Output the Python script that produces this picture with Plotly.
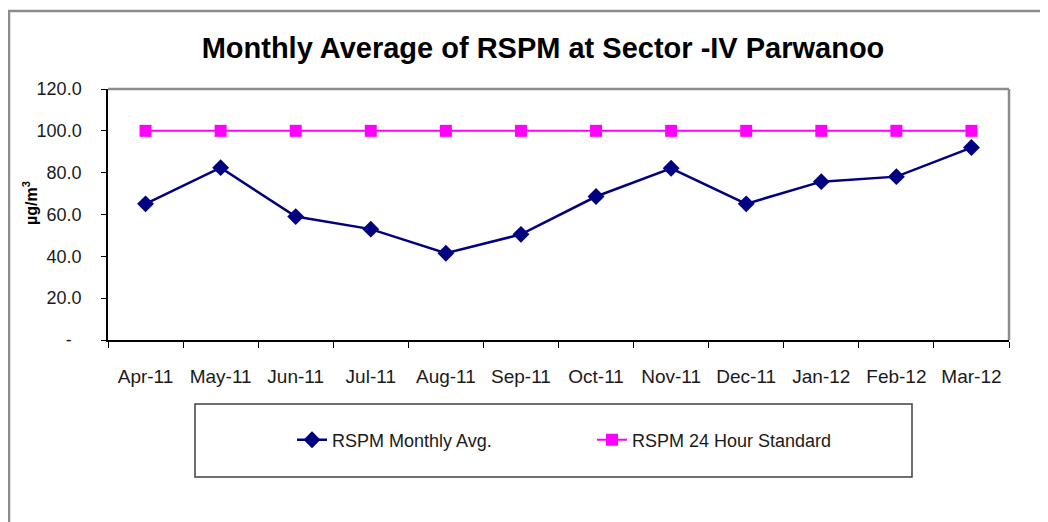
import plotly.graph_objects as go

months = ["Apr-11", "May-11", "Jun-11", "Jul-11", "Aug-11", "Sep-11",
          "Oct-11", "Nov-11", "Dec-11", "Jan-12", "Feb-12", "Mar-12"]
rspm_avg = [65.1, 82.4, 59.0, 53.0, 41.5, 50.5, 68.6, 82.1, 65.1, 75.7, 78.1, 92.0]
rspm_std = [100, 100, 100, 100, 100, 100, 100, 100, 100, 100, 100, 100]

y_tickvals = [0, 20, 40, 60, 80, 100, 120]
y_ticktext = ["-\u00a0\u00a0", "20.0", "40.0", "60.0", "80.0", "100.0", "120.0"]

FONT = "Liberation Sans, Arial, sans-serif"
OFF = 8  # page body margin
W, H = 1048 - OFF, 522 - OFF
# plot area in page pixels
PL, PR, PT, PB = 108, 1009, 89, 340
L, R, T, B = PL - OFF, PR - OFF, PT - OFF, PB - OFF


def px(x):  # page pixel -> paper x
    return (x - OFF - L) / (R - L)


def py(y):  # page pixel -> paper y
    return (B - (y - OFF)) / (B - T)


fig = go.Figure()
fig.add_trace(go.Scatter(
    x=months, y=rspm_avg, name="RSPM Monthly Avg.", mode="lines+markers",
    line=dict(color="#000080", width=2.5),
    marker=dict(symbol="diamond", size=13, color="#000080"),
    legend="legend",
))
fig.add_trace(go.Scatter(
    x=months, y=rspm_std, name="RSPM 24 Hour Standard", mode="lines+markers",
    line=dict(color="#FF00FF", width=2),
    marker=dict(symbol="square", size=12, color="#FF00FF"),
    legend="legend2",
))

shapes = [
    # outer chart frame
    dict(type="rect", xref="paper", yref="paper", x0=px(9), x1=px(1070),
         y0=py(560), y1=py(11), line=dict(color="#8c8c8c", width=2.5),
         layer="below"),
    # plot area top and right border
    dict(type="line", xref="paper", yref="paper", x0=0, x1=1, y0=1, y1=1,
         line=dict(color="#8c8c8c", width=2.5)),
    dict(type="line", xref="paper", yref="paper", x0=1, x1=1, y0=0, y1=1,
         line=dict(color="#8c8c8c", width=2.5)),
    # legend box
    dict(type="rect", xref="paper", yref="paper", x0=px(195), x1=px(912),
         y0=py(477), y1=py(404), line=dict(color="#404040", width=1.5)),
]

fig.update_layout(
    width=W, height=H,
    margin=dict(l=L, r=W - R, t=T, b=H - B),
    paper_bgcolor="white", plot_bgcolor="white",
    font=dict(family=FONT, color="#1a1a1a", size=18),
    title=dict(text="<b>Monthly Average of RSPM at Sector -IV Parwanoo</b>",
               x=px(543), xref="paper", xanchor="center",
               y=1 - (48 - OFF) / H, yanchor="middle",
               font=dict(size=29, color="#000000", family=FONT)),
    xaxis=dict(
        type="category", range=[-0.5, 11.5], tickson="boundaries",
        ticks="outside", ticklen=6, tickcolor="#000", tickwidth=1,
        showline=True, linecolor="#000", linewidth=1.5, showgrid=False,
        tickfont=dict(size=19, color="#1a1a1a"), ticklabelstandoff=18,
        zeroline=False,
    ),
    yaxis=dict(
        range=[0, 120], tickvals=y_tickvals, ticktext=y_ticktext,
        ticks="outside", ticklen=5, tickcolor="#000", tickwidth=1,
        showline=True, linecolor="#000", linewidth=1.5, showgrid=False,
        tickfont=dict(size=18, color="#1a1a1a"), ticklabelstandoff=16,
        zeroline=False,
    ),
    showlegend=True,
    legend=dict(orientation="h", x=px(292), y=py(440), xanchor="left", yanchor="middle",
                bgcolor="rgba(0,0,0,0)", font=dict(size=18, color="#1a1a1a")),
    legend2=dict(orientation="h", x=px(592), y=py(440), xanchor="left", yanchor="middle",
                 bgcolor="rgba(0,0,0,0)", font=dict(size=18, color="#1a1a1a")),
    shapes=shapes,
    annotations=[dict(text="<b>µg/m<sup>3</sup></b>", xref="paper", yref="paper",
                      x=px(30), y=py(203), textangle=-90, showarrow=False,
                      xanchor="center", yanchor="middle",
                      font=dict(size=16, color="#000", family=FONT))],
)

fig.write_html("out.html")
